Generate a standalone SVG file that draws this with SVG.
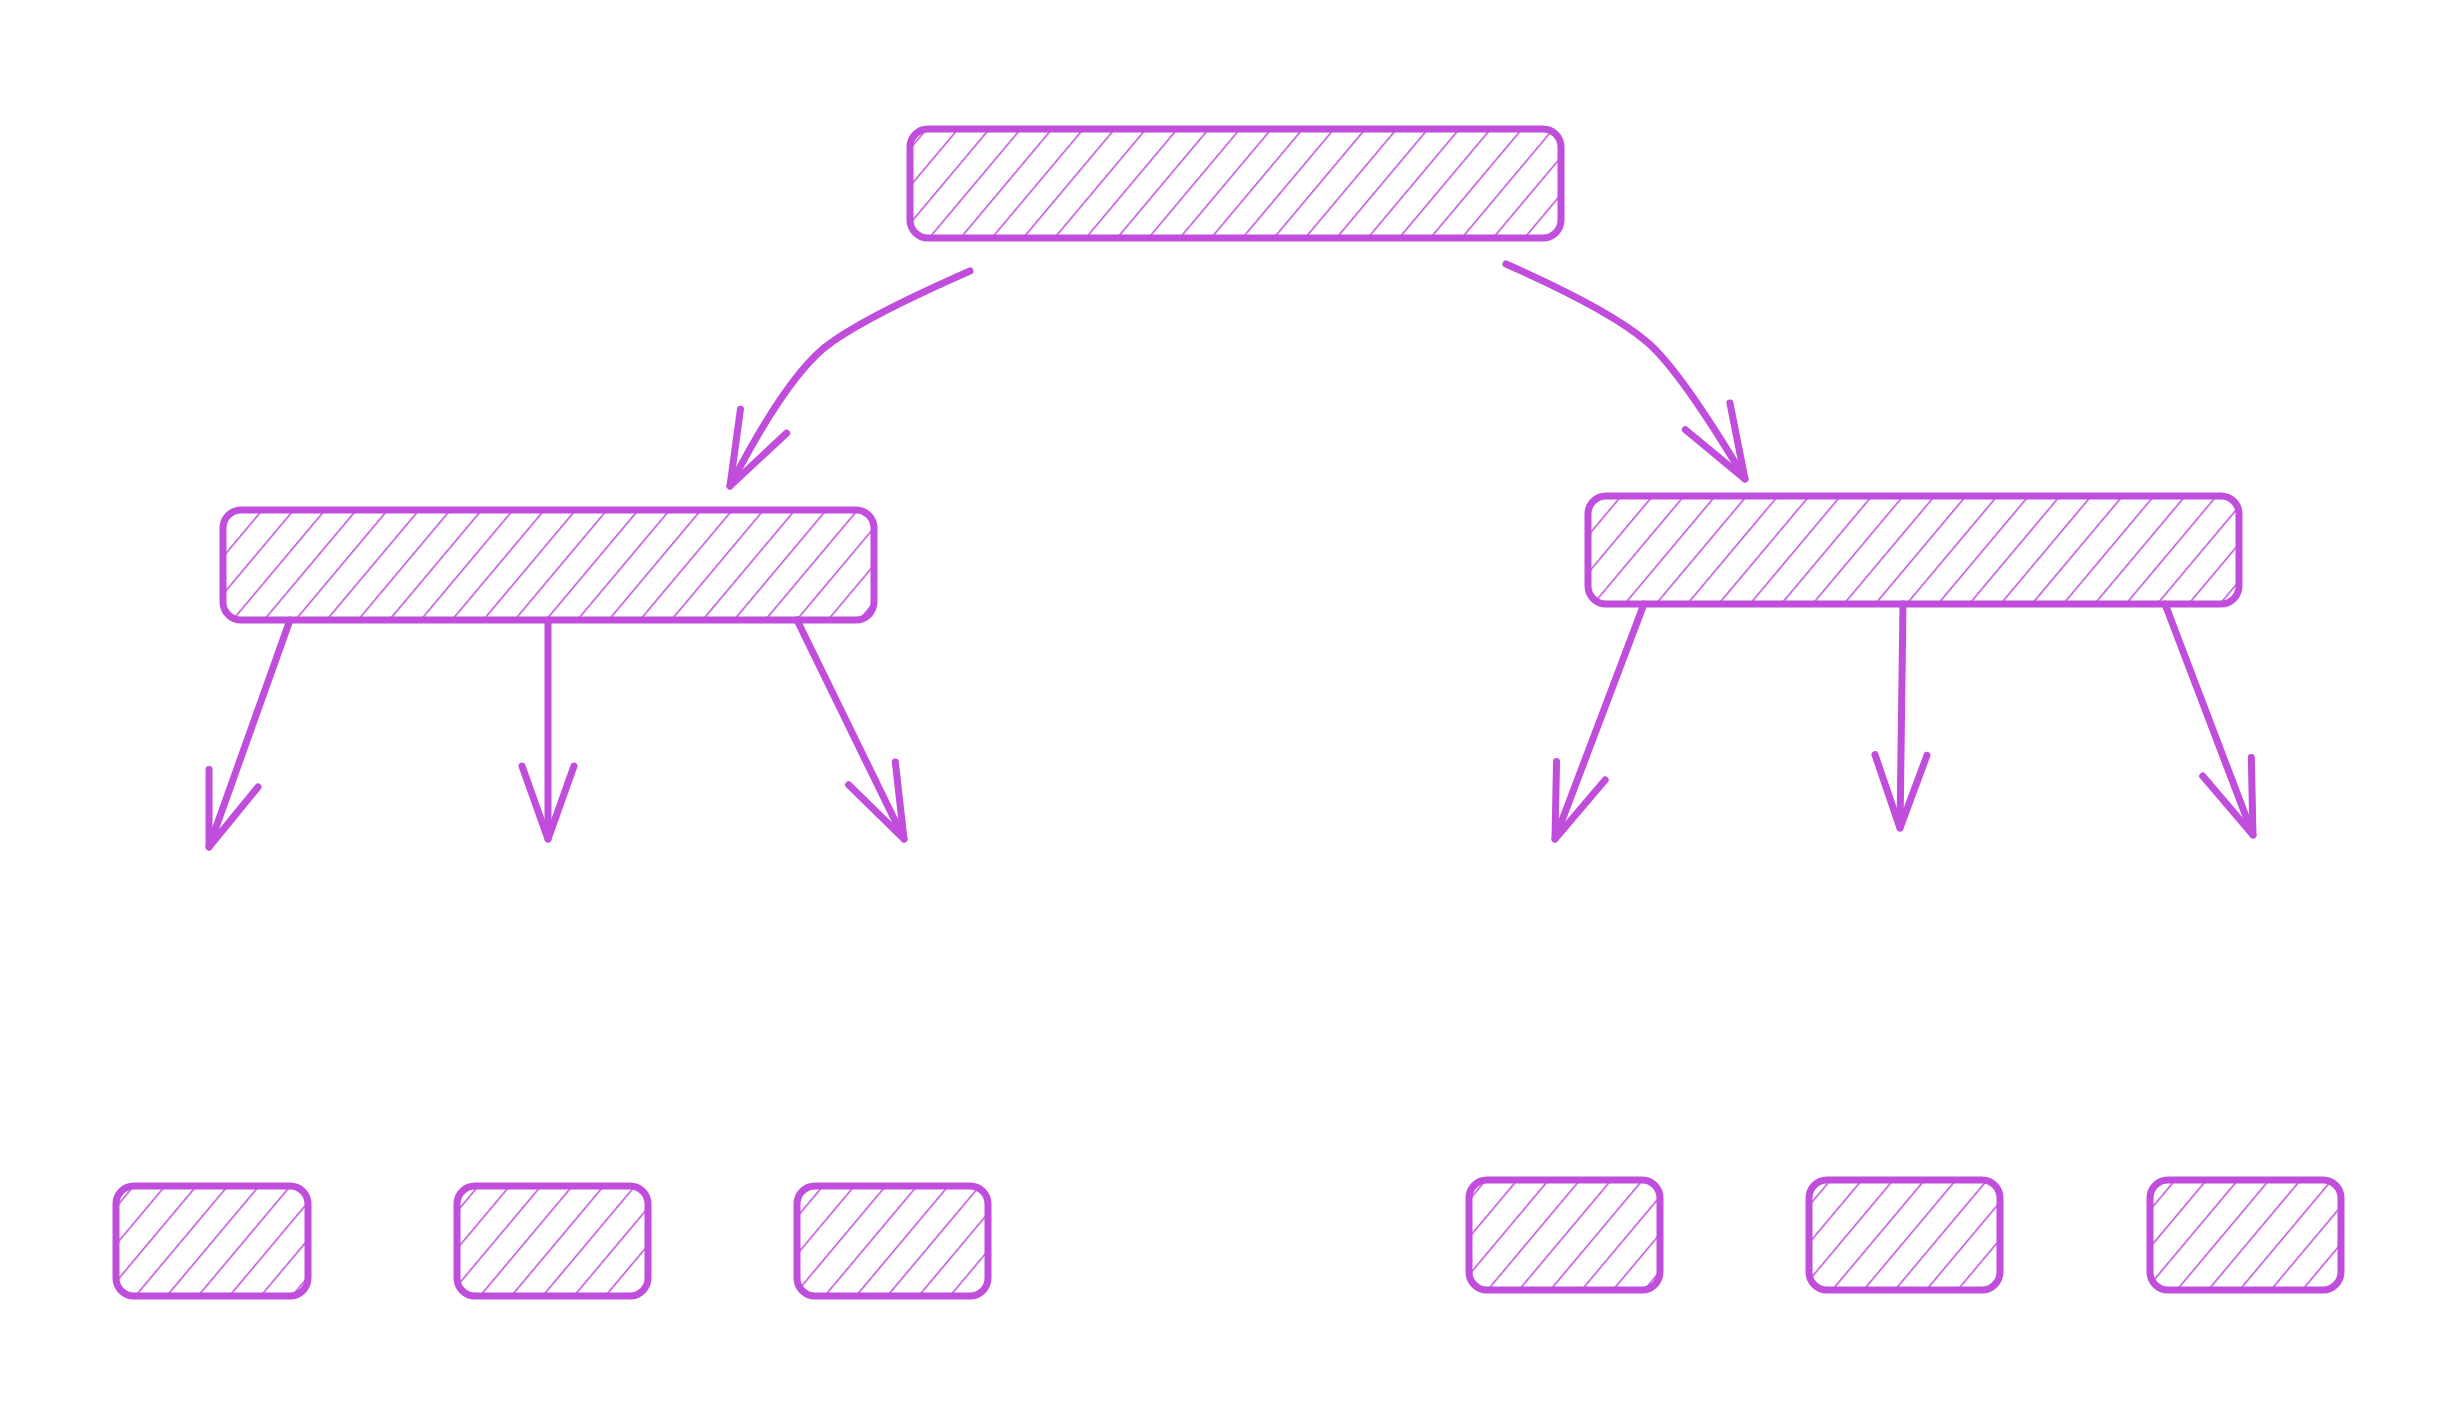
<svg xmlns="http://www.w3.org/2000/svg" width="2460" height="1404" viewBox="0 0 2460 1404">
<style>
.box{fill:url(#hatch);stroke:#c04ddb;stroke-width:7}
.c{fill:none;stroke:#c04ddb;stroke-width:7;stroke-linecap:round}
</style>
<defs>
<pattern id="hatch" width="24" height="24" patternUnits="userSpaceOnUse" patternTransform="rotate(40)">
<line x1="0" y1="0" x2="0" y2="24" stroke="#c04ddb" stroke-width="3"/>
</pattern>
<marker id="ah" viewBox="0 0 20 20" refX="18" refY="10" markerWidth="20" markerHeight="20" markerUnits="userSpaceOnUse" orient="auto" overflow="visible">
<path d="M-55,-16 L18,10 L-55,36" fill="none" stroke="#c04ddb" stroke-width="7" stroke-linecap="round" stroke-linejoin="round"/>
</marker>
</defs>
<rect width="2460" height="1404" fill="#fff"/>
<g id="root"><rect class="box" x="910" y="129" width="651" height="109" rx="18"/></g>
<g id="midL"><rect class="box" x="223" y="510" width="651" height="110" rx="18"/></g>
<g id="midR"><rect class="box" x="1588" y="496" width="651" height="108" rx="18"/></g>
<g id="l1"><rect class="box" x="116" y="1186" width="192" height="110" rx="18"/></g>
<g id="l2"><rect class="box" x="457" y="1186" width="191" height="110" rx="18"/></g>
<g id="l3"><rect class="box" x="797" y="1186" width="191" height="110" rx="18"/></g>
<g id="r1"><rect class="box" x="1469" y="1180" width="191" height="110" rx="18"/></g>
<g id="r2"><rect class="box" x="1809" y="1180" width="191" height="110" rx="18"/></g>
<g id="r3"><rect class="box" x="2150" y="1180" width="191" height="110" rx="18"/></g>
<g id="connectors">
<path class="c" marker-end="url(#ah)" d="M970,271 Q870,315 832,342 Q790,370 730,486"/>
<path class="c" marker-end="url(#ah)" d="M1506,264 Q1610,310 1647,342 Q1680,370 1745,479"/>
<path class="c" marker-end="url(#ah)" d="M290,620 L209,847"/>
<path class="c" marker-end="url(#ah)" d="M548,620 L548,839"/>
<path class="c" marker-end="url(#ah)" d="M797,620 L904,839"/>
<path class="c" marker-end="url(#ah)" d="M1644,604 L1555,839"/>
<path class="c" marker-end="url(#ah)" d="M1903,604 L1900,828"/>
<path class="c" marker-end="url(#ah)" d="M2165,604 L2253,835"/>
</g>
</svg>
